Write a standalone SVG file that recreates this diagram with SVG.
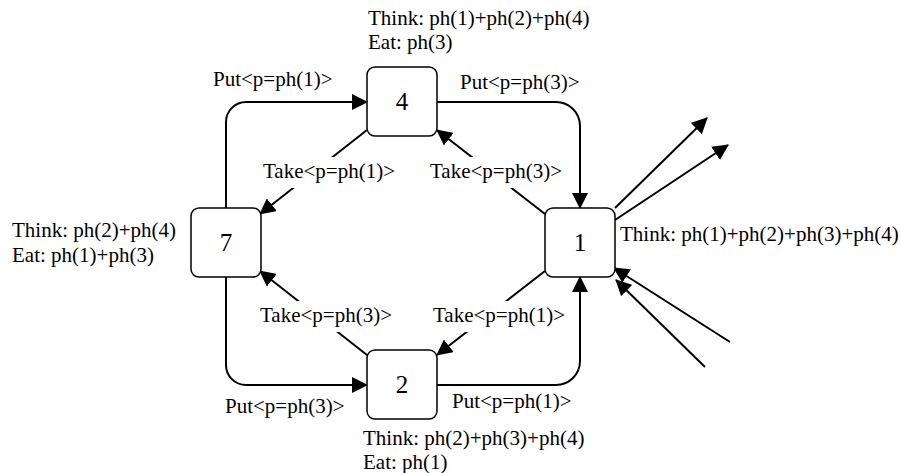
<svg xmlns="http://www.w3.org/2000/svg" width="901" height="473" viewBox="0 0 901 473">
<style>
  .node rect { fill: #ffffff; stroke: #000000; stroke-width: 1.5; }
  .node text { font-family: "Liberation Serif", "Times New Roman", serif; font-size: 25px; text-anchor: middle; fill: #000; }
  .lbl { font-family: "Liberation Serif", "Times New Roman", serif; font-size: 21px; fill: #000; }
  .edge { fill: none; stroke: #000000; stroke-width: 2; marker-end: url(#arr); }
  .bg { fill: #ffffff; stroke: none; }
</style>
<defs>
  <marker id="arr" markerUnits="userSpaceOnUse" markerWidth="17" markerHeight="16" refX="15" refY="8" orient="auto">
    <path d="M0,0 L16,8 L0,16 z" fill="#000000"/>
  </marker>
</defs>
<rect width="901" height="473" fill="#ffffff"/>
<g id="connectors">
  <path class="edge" d="M226,208 V122 A20,20 0 0 1 246,102 H367"/>
  <path class="edge" d="M437,102 H556 A24,24 0 0 1 580,126 V208"/>
  <path class="edge" d="M226,277 V365 A20,20 0 0 0 246,385 H367"/>
  <path class="edge" d="M437,385 H556 A24,24 0 0 0 580,361 V277"/>
  <path class="edge" d="M367,130 L260,214"/>
  <path class="edge" d="M545,214 L437,130"/>
  <path class="edge" d="M367,355 L260,271"/>
  <path class="edge" d="M545,271 L437,355"/>
  <path class="edge" d="M615,208 L707,118"/>
  <path class="edge" d="M615,220 L728,145"/>
  <path class="edge" d="M730,342 L614,268"/>
  <path class="edge" d="M705,367 L616,280"/>
  <rect class="bg" x="261" y="157" width="137" height="31"/>
  <text class="lbl" x="263" y="178">Take&lt;p=ph(1)&gt;</text>
  <rect class="bg" x="428" y="157" width="137" height="31"/>
  <text class="lbl" x="430" y="178">Take&lt;p=ph(3)&gt;</text>
  <rect class="bg" x="258" y="301" width="137" height="31"/>
  <text class="lbl" x="260" y="322">Take&lt;p=ph(3)&gt;</text>
  <rect class="bg" x="431" y="301" width="137" height="31"/>
  <text class="lbl" x="433" y="322">Take&lt;p=ph(1)&gt;</text>
  <text class="lbl" x="213" y="86">Put&lt;p=ph(1)&gt;</text>
  <text class="lbl" x="460" y="89">Put&lt;p=ph(3)&gt;</text>
  <text class="lbl" x="225" y="413">Put&lt;p=ph(3)&gt;</text>
  <text class="lbl" x="452" y="408">Put&lt;p=ph(1)&gt;</text>
</g>
<g id="node4" class="node">
  <rect x="367" y="67" width="70" height="69" rx="8"/>
  <text x="402" y="110">4</text>
  <text class="lbl" x="368" y="25" style="text-anchor:start;font-size:21px">Think: ph(1)+ph(2)+ph(4)</text>
  <text class="lbl" x="368" y="49" style="text-anchor:start;font-size:21px">Eat: ph(3)</text>
</g>
<g id="node7" class="node">
  <rect x="191" y="208" width="70" height="69" rx="8"/>
  <text x="226" y="251">7</text>
  <text class="lbl" x="12" y="237" style="text-anchor:start;font-size:21px">Think: ph(2)+ph(4)</text>
  <text class="lbl" x="12" y="262" style="text-anchor:start;font-size:21px">Eat: ph(1)+ph(3)</text>
</g>
<g id="node1" class="node">
  <rect x="545" y="208" width="70" height="69" rx="8"/>
  <text x="580" y="251">1</text>
  <text class="lbl" x="620" y="241" style="text-anchor:start;font-size:21px">Think: ph(1)+ph(2)+ph(3)+ph(4)</text>
</g>
<g id="node2" class="node">
  <rect x="367" y="350" width="70" height="69" rx="8"/>
  <text x="402" y="393">2</text>
  <text class="lbl" x="363" y="445" style="text-anchor:start;font-size:21px">Think: ph(2)+ph(3)+ph(4)</text>
  <text class="lbl" x="363" y="469" style="text-anchor:start;font-size:21px">Eat: ph(1)</text>
</g>
</svg>
